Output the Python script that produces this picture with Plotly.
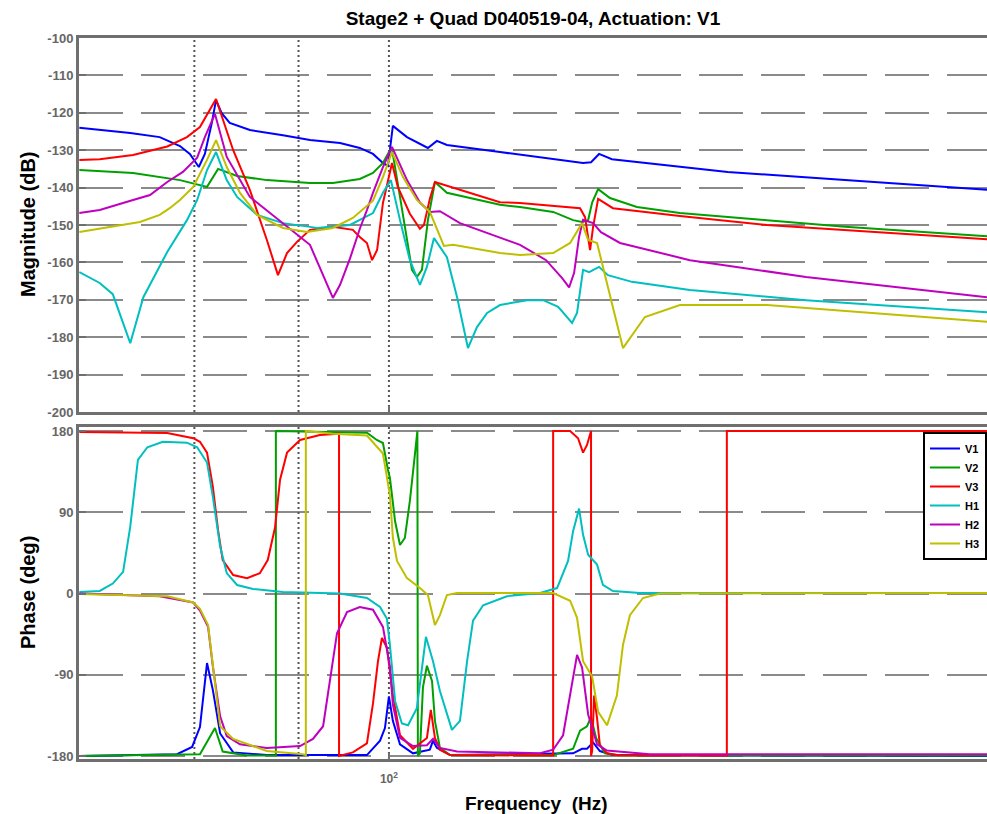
import math
import plotly.graph_objects as go

# ---------------------------------------------------------------------------
# Data: transfer functions, frequency in Hz
# ---------------------------------------------------------------------------
NAMES = ["V1", "V2", "V3", "H1", "H2", "H3"]
COLORS = ["#0000FF", "#00A000", "#FF0000", "#00BFBF", "#BF00BF", "#BFBF00"]

# magnitude, (Hz, dB)
V1_MAG = [(33.4, -124.0), (35.9, -124.5), (40.0, -125.4), (44.4, -126.5), (47.7, -128.9),
          (49.4, -131.0), (51.0, -134.5), (52.1, -131.0), (53.4, -122.7), (54.2, -116.6),
          (55.3, -120.1), (56.9, -122.7), (61.1, -124.6), (68.7, -126.0), (75.6, -127.3),
          (84.1, -128.1), (90.2, -129.4), (94.5, -131.0), (97.9, -133.4), (99.65, -134.2),
          (101.4, -123.5), (106.6, -126.5), (114.8, -129.4), (118.5, -127.5), (122.8, -128.6),
          (148.2, -130.5), (192.0, -133.2), (198.9, -133.4), (204.6, -133.2), (210.5, -131.0),
          (220.3, -132.4), (332, -135.8), (503, -138.0), (832, -140.6)]

V2_MAG = [(33.4, -135.3), (40.4, -136.1), (47.7, -138.0), (51.2, -139.3), (52.5, -139.8),
          (54.6, -135.0), (58.4, -136.9), (64.9, -138.0), (75.6, -138.8), (82.0, -138.8),
          (90.2, -137.7), (94.5, -136.1), (97.9, -133.4), (100.35, -130.0), (101.1, -129.7),
          (104.0, -142.5), (108.5, -162.0), (110.4, -163.9), (112.4, -162.0), (114.8, -148.7),
          (117.7, -138.5), (122.8, -141.4), (148.2, -144.6), (159.1, -145.2), (178.9, -146.5),
          (192.0, -148.7), (198.2, -149.2), (202.5, -148.7), (205.4, -144.0), (209.8, -140.4),
          (218.8, -142.8), (240.7, -145.2), (280.3, -146.8), (381.5, -148.7), (503, -150.5),
          (832, -153.0)]

V3_MAG = [(33.4, -132.6), (35.9, -132.4), (40.4, -131.3), (45.6, -129.0), (48.9, -126.5),
          (51.2, -123.8), (54.2, -116.3), (57.6, -130.0), (61.1, -140.6), (64.9, -154.0),
          (67.5, -163.4), (69.7, -157.5), (72.2, -154.5), (75.6, -151.3), (82.0, -150.5),
          (88.0, -151.3), (90.2, -153.2), (92.5, -154.8), (94.2, -159.4), (95.9, -156.7),
          (97.9, -144.1), (101.1, -133.4), (103.2, -139.8), (107.7, -147.0), (111.6, -151.0),
          (113.2, -150.0), (115.6, -143.0), (117.7, -138.5), (148.2, -143.9), (159.1, -144.1),
          (196.8, -145.5), (200.3, -147.9), (203.9, -156.7), (206.1, -150.5), (209.8, -143.0),
          (221.1, -145.5), (280.3, -147.6), (381.5, -150.0), (832, -153.8)]

H1_MAG = [(33.4, -162.6), (35.9, -165.5), (37.6, -168.5), (40.0, -181.6), (41.9, -169.3),
          (45.6, -157.2), (48.9, -148.7), (50.7, -143.3), (52.5, -135.3), (54.2, -130.5),
          (56.3, -138.0), (58.4, -142.5), (62.7, -147.3), (68.7, -149.5), (75.6, -150.5),
          (77.5, -150.8), (87.1, -150.0), (94.5, -146.8), (97.9, -141.4), (100.7, -138.0),
          (104.0, -148.7), (107.7, -159.4), (111.6, -166.0), (114.4, -161.2), (117.3, -153.5),
          (122.8, -158.6), (127.3, -169.3), (132.3, -182.9), (136.6, -177.3), (141.6, -173.5),
          (148.2, -171.4), (163.1, -170.1), (172.7, -170.1), (182.1, -171.9), (191.3, -176.2),
          (194.7, -173.5), (198.9, -162.0), (203.2, -162.6), (210.5, -161.2), (217.2, -163.4),
          (236.5, -165.2), (290.4, -167.4), (438, -170.1), (832, -173.3)]

H2_MAG = [(33.4, -146.8), (35.9, -146.0), (40.4, -143.3), (42.9, -142.0), (45.6, -138.5),
          (48.2, -135.8), (50.7, -132.0), (52.1, -126.5), (54.0, -120.3), (56.3, -131.8),
          (61.1, -142.5), (68.7, -149.5), (75.6, -155.3), (82.0, -169.5), (84.1, -166.0),
          (87.1, -159.0), (90.2, -151.0), (92.5, -146.0), (94.5, -141.4), (97.9, -134.5),
          (101.1, -129.1), (106.6, -138.0), (111.6, -144.0), (115.6, -146.5), (119.8, -146.3),
          (128.6, -149.5), (148.2, -153.5), (159.1, -155.3), (174.5, -159.4), (184.7, -164.2),
          (189.3, -166.7), (192.7, -162.8), (196.1, -153.2), (198.9, -148.6), (206.1, -149.5),
          (211.9, -151.9), (226.7, -154.8), (290.4, -159.4), (438, -163.9), (832, -169.3)]

H3_MAG = [(33.4, -151.9), (37.2, -150.5), (41.4, -149.2), (44.4, -147.3), (46.0, -145.5),
          (47.7, -143.3), (50.0, -139.8), (52.5, -132.6), (54.2, -127.3), (56.3, -134.5),
          (59.0, -141.4), (62.7, -147.3), (68.7, -150.8), (74.8, -151.9), (82.0, -150.8),
          (88.0, -148.1), (94.5, -143.5), (97.9, -137.2), (101.1, -130.5), (105.1, -137.2),
          (110.4, -143.3), (115.6, -146.5), (118.5, -151.3), (121.5, -155.6), (125.5, -155.3),
          (148.2, -157.5), (159.1, -158.0), (178.9, -157.5), (190.0, -154.8), (198.2, -149.5),
          (202.5, -154.0), (209.0, -154.8), (220.3, -170.9), (229.1, -182.9), (247.6, -174.6),
          (280.3, -171.4), (381.5, -171.4), (832, -175.9)]

# phase, (Hz, deg) -- repeated frequencies mark the +/-180 wraps
V1_PH = [(33.4, -180), (47.2, -178), (49.8, -170), (51.2, -148), (52.5, -77), (53.6, -107),
         (55.0, -155), (57.6, -176), (64.9, -179), (92.5, -179), (96.9, -163), (98.6, -149),
         (100.0, -114), (101.4, -141), (104.0, -167), (108.9, -177), (115.6, -173), (116.9, -163),
         (118.5, -171), (124.2, -179), (192.0, -177), (198.2, -172), (201.7, -172), (206.1, -165),
         (211.1, -174.5), (221.1, -179), (832, -180)]

V2_PH = [(33.4, -180), (51.2, -178), (54.0, -149), (55.5, -175), (60.5, -179.5), (67.0, -179.5),
         (67.0, 180), (92.5, 178), (95.8, 170), (97.9, 166.7), (99.65, 137), (100.35, 128),
         (102.2, 80), (104.0, 53.7), (105.8, 61.5), (107.7, 102.5), (109.6, 153), (110.6, 180),
         (110.8, -180), (111.6, -177), (112.8, -104), (114.4, -80), (116.5, -97), (117.7, -141),
         (119.8, -171), (124.2, -179), (178.9, -179), (192.0, -172), (196.8, -152), (201.7, -147),
         (204.6, -137), (208.3, -160), (214.9, -177), (226.7, -179.5), (832, -179.5)]

V3_PH = [(33.4, 179), (45.6, 177.8), (50.0, 172), (51.2, 168), (52.5, 156), (53.6, 118),
         (54.6, 70), (55.5, 37), (57.6, 20.5), (60.5, 17), (63.3, 22.5), (65.1, 37), (66.8, 73),
         (68.0, 126), (69.7, 156), (73.0, 170), (78.3, 175.6), (83.5, 177), (83.8, 177),
         (83.8, -180), (88.0, -176), (92.5, -166), (94.5, -122), (96.2, -75), (97.55, -49.3),
         (99.3, -60), (101.4, -112), (104.0, -157), (108.9, -172), (114.4, -160), (116.0, -129),
         (117.7, -160), (119.8, -173), (124.2, -179), (178.9, -179.5), (178.9, 180), (190.0, 180),
         (195.4, 172), (198.9, 156), (201.7, 164.5), (203.9, 178), (204.6, 180), (204.6, -180),
         (205.4, -174.5), (206.8, -113), (209.0, -138), (211.1, -168), (216.5, -177),
         (226.7, -179.5), (331, -179.5), (331, 180), (832, 180)]

H1_PH = [(33.4, 1.7), (35.9, 2.8), (37.6, 11), (39.0, 24), (40.0, 74), (41.1, 148), (42.5, 162),
         (44.9, 168), (48.9, 167), (50.7, 162), (52.5, 145), (53.6, 107), (55.0, 52), (56.3, 22.6),
         (58.4, 9.4), (61.8, 5), (68.7, 1.7), (84.1, 0), (92.5, -5), (96.9, -15), (99.3, -28),
         (100.35, -57), (102.2, -119), (104.7, -144), (107.0, -146), (110.4, -127), (114.0, -48),
         (116.9, -75), (119.8, -108), (125.0, -151), (128.6, -141), (131.9, -75), (134.7, -30),
         (139.6, -13), (151.9, -3), (170.8, 0.5), (181.4, 6), (188.6, 36), (192.0, 69),
         (196.1, 94), (198.9, 65), (202.5, 43), (209.0, 32), (213.4, 9.5), (221.1, 2.7),
         (243.3, 0.5), (832, 0.5)]

H2_PH = [(33.4, 0), (44.4, -3), (50.0, -10), (51.2, -19), (52.7, -37), (53.6, -81), (55.0, -136),
         (56.3, -158), (59.0, -167), (64.9, -171), (73.0, -169), (76.4, -161), (79.2, -147),
         (81.1, -99.6), (83.2, -44), (86.2, -20.5), (90.2, -15), (94.5, -18), (97.9, -37),
         (100.35, -81), (101.4, -123), (104.0, -160), (108.9, -169), (114.4, -168), (116.9, -161),
         (119.8, -171), (127.3, -175), (170.8, -177), (178.9, -173), (185.3, -157), (190.0, -113),
         (194.7, -68), (198.2, -82), (202.5, -134), (209.0, -167), (216.5, -174), (252, -178),
         (832, -178)]

H3_PH = [(33.4, -0.5), (45.6, -3), (50.0, -10), (51.2, -17), (52.7, -35), (53.6, -78),
         (55.0, -147), (57.6, -161), (64.9, -174.5), (73.7, -178), (74.5, -179), (74.5, 180),
         (82.0, 177), (92.5, 175), (97.9, 155), (100.35, 109), (101.4, 62), (102.9, 36),
         (106.6, 17), (111.6, 6), (114.8, -1.7), (117.7, -35), (119.8, -24), (122.8, -1.7),
         (127.3, 0.5), (178.9, 0.5), (190.0, -8), (194.7, -27), (198.9, -75), (205.4, -92),
         (209.8, -131), (216.5, -146), (224.2, -113), (229.1, -57), (234.8, -24), (245.9, -5),
         (261.2, 0), (832, 0.5)]

MAG = [V1_MAG, V2_MAG, V3_MAG, H1_MAG, H2_MAG, H3_MAG]
PHASE = [V1_PH, V2_PH, V3_PH, H1_PH, H2_PH, H3_PH]

# frequencies of the dotted reference lines
MARKER_FREQS = [50.2, 72.6, 100.0]

FREQ_RANGE = [33.36, 831.8]
MAG_RANGE = [-200, -100]
MAG_TICKS = list(range(-200, -99, 10))
PHASE_RANGE = [-183.3, 184.4]
PHASE_TICKS = [-180, -90, 0, 90, 180]

TITLE = "Stage2 + Quad D040519-04, Actuation: V1"

# ---------------------------------------------------------------------------
FONT = "Liberation Sans, Arial, Helvetica, sans-serif"
AXIS_GRAY = "#6f6f6f"
GRID_GRAY = "#8a8a8a"
TICK_GRAY = "#666666"

fig = go.Figure()

for f in MARKER_FREQS:
    fig.add_trace(go.Scatter(x=[f, f], y=MAG_RANGE, xaxis="x", yaxis="y", mode="lines",
                             line=dict(color="#555555", width=2, dash="2px,3px"),
                             showlegend=False, hoverinfo="skip"))
    fig.add_trace(go.Scatter(x=[f, f], y=PHASE_RANGE, xaxis="x2", yaxis="y2", mode="lines",
                             line=dict(color="#555555", width=2, dash="2px,3px"),
                             showlegend=False, hoverinfo="skip"))

for name, color, mag in zip(NAMES, COLORS, MAG):
    f, v = zip(*mag)
    fig.add_trace(go.Scatter(x=f, y=v, xaxis="x", yaxis="y", mode="lines", name=name,
                             legendgroup=name, showlegend=False,
                             line=dict(color=color, width=2)))

for name, color, ph in zip(NAMES, COLORS, PHASE):
    f, v = zip(*ph)
    fig.add_trace(go.Scatter(x=f, y=v, xaxis="x2", yaxis="y2", mode="lines", name=name,
                             legendgroup=name, showlegend=True,
                             line=dict(color=color, width=2)))

log_range = [math.log10(FREQ_RANGE[0]), math.log10(FREQ_RANGE[1])]
tick_font = dict(family=FONT, size=13, color=TICK_GRAY, weight="bold")

xcommon = dict(type="log", range=log_range, showgrid=False, zeroline=False,
               showline=True, linecolor=AXIS_GRAY, linewidth=3, mirror=True,
               ticks="inside", ticklen=6, tickwidth=2, tickcolor=AXIS_GRAY,
               tickvals=[100])
ycommon = dict(showgrid=True, gridcolor=GRID_GRAY, gridwidth=1.5, griddash="44px,18px",
               zeroline=False, showline=True, linecolor=AXIS_GRAY, linewidth=3, mirror=False,
               ticks="inside", ticklen=7, tickwidth=2, tickcolor=AXIS_GRAY,
               tickfont=tick_font)

fig.update_layout(
    width=987, height=814,
    margin=dict(l=79, r=0, t=38, b=55),
    paper_bgcolor="white", plot_bgcolor="white",
    font=dict(family=FONT),
    title=dict(text="<b>" + TITLE + "</b>", x=0.5, xref="paper", xanchor="center",
               y=1 - 18 / 814, yanchor="middle",
               font=dict(family=FONT, size=19, color="black")),
    xaxis=dict(**xcommon, anchor="y", showticklabels=False),
    yaxis=dict(**ycommon, domain=[347 / 721, 1], range=MAG_RANGE, tickvals=MAG_TICKS,
               ticktext=[str(v) for v in MAG_TICKS]),
    xaxis2=dict(**xcommon, anchor="y2", matches="x", showticklabels=True,
                ticktext=["10<sup>2</sup>"], ticklabelstandoff=7,
                tickfont=dict(family=FONT, size=12, color=TICK_GRAY, weight="bold")),
    yaxis2=dict(**ycommon, domain=[0, 332 / 721], range=PHASE_RANGE, tickvals=PHASE_TICKS,
                ticktext=[str(v) for v in PHASE_TICKS]),
    legend=dict(x=1, xanchor="right", y=(759 - 432) / 721, yanchor="top",
                bgcolor="white", bordercolor="black", borderwidth=2,
                font=dict(family=FONT, size=11, color="black", weight="bold"),
                tracegroupgap=0, itemwidth=30),
    showlegend=True,
    annotations=[
        dict(text="<b>Magnitude (dB)</b>", xref="paper", yref="paper",
             x=(28 - 79) / 908, y=(759 - 224) / 721, textangle=-90,
             showarrow=False, xanchor="center", yanchor="middle",
             font=dict(family=FONT, size=20, color="black")),
        dict(text="<b>Phase (deg)</b>", xref="paper", yref="paper",
             x=(28 - 79) / 908, y=(759 - 593) / 721, textangle=-90,
             showarrow=False, xanchor="center", yanchor="middle",
             font=dict(family=FONT, size=20, color="black")),
        dict(text="<b>Frequency\u00a0 (Hz)</b>", xref="paper", yref="paper",
             x=(536 - 79) / 908, y=(759 - 803) / 721,
             showarrow=False, xanchor="center", yanchor="middle",
             font=dict(family=FONT, size=19, color="black")),
    ],
)

fig.write_html("out.html")
